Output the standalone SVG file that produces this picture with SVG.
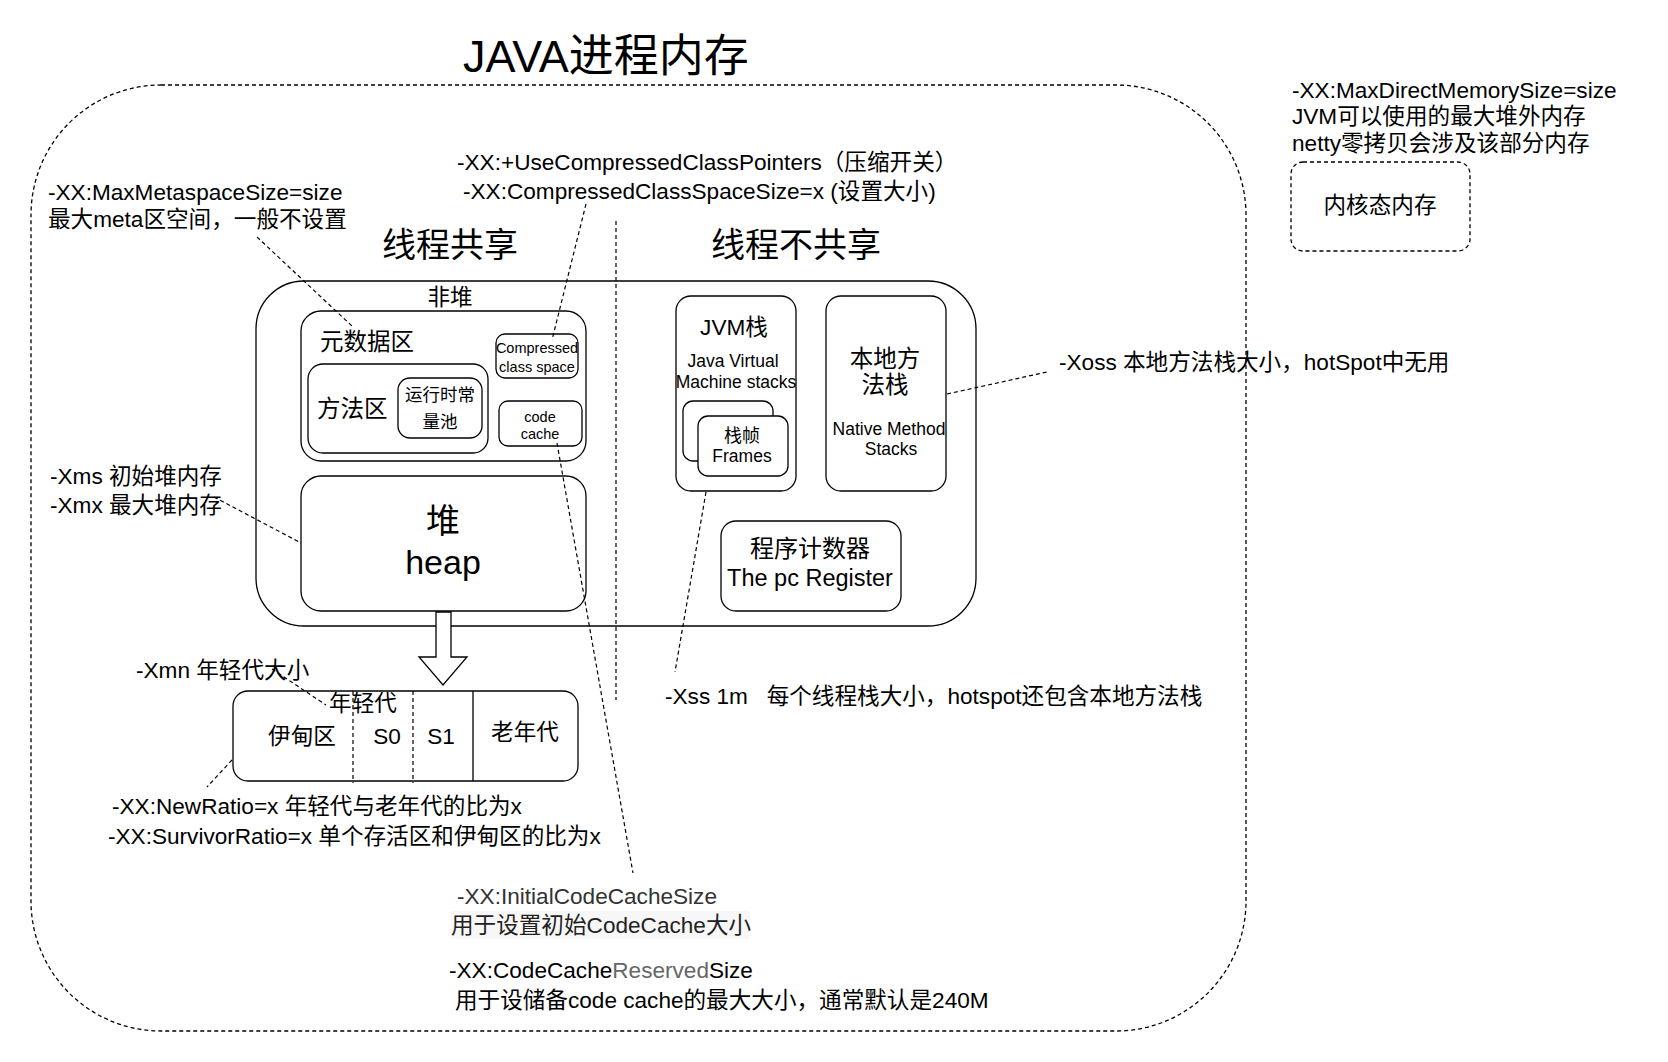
<svg xmlns="http://www.w3.org/2000/svg" width="1668" height="1062" viewBox="0 0 1668 1062">
<style>
text { font-family: "Liberation Sans", "Noto Sans CJK SC", sans-serif; fill: #000; white-space: pre; }
.box { fill: #fff; stroke: #000; stroke-width: 1.3; }
.dash { fill: none; stroke: #000; stroke-width: 1.3; stroke-dasharray: 4 3; }
.lead { fill: none; stroke: #000; stroke-width: 1.2; stroke-dasharray: 4 3; }
.t22 { font-size: 22.6px; }
.t23 { font-size: 23.5px; }
.t17 { font-size: 17.5px; }
.t14 { font-size: 14.5px; }
.c { text-anchor: middle; }
</style>
<rect width="1668" height="1062" fill="#fff"/>

<g id="title"><text x="463" y="72" font-size="45">JAVA进程内存</text></g>

<g id="process-memory"><rect class="dash" x="31" y="85" width="1215" height="946" rx="130"/></g>

<g id="kernel-memory">
<rect class="dash" x="1291" y="162" width="179" height="89" rx="12"/>
<text class="t22 c" x="1380" y="213">内核态内存</text>
</g>
<g id="direct-memory-note">
<text class="t22" x="1292" y="98">-XX:MaxDirectMemorySize=size</text>
<text class="t22" x="1292" y="124">JVM可以使用的最大堆外内存</text>
<text class="t22" x="1292" y="151">netty零拷贝会涉及该部分内存</text>
</g>

<g id="labels-sharing">
<text class="c" x="450" y="257" font-size="34">线程共享</text>
<text class="c" x="796" y="257" font-size="34">线程不共享</text>
</g>

<g id="jvm-area">
<rect class="box" x="256" y="281" width="720" height="345" rx="48"/>
<text class="t22 c" x="450" y="305">非堆</text>
</g>

<g id="metadata">
<rect class="box" x="301" y="311" width="285" height="150" rx="20"/>
<text class="t23" x="320" y="350">元数据区</text>
</g>
<g id="method-area">
<rect class="box" x="308" y="364" width="180" height="89" rx="15"/>
<text class="t23" x="317" y="417">方法区</text>
</g>
<g id="runtime-constant-pool">
<rect class="box" x="398" y="378" width="84" height="60" rx="12"/>
<text class="c" x="440" y="401" font-size="17.5">运行时常</text>
<text class="c" x="440" y="428" font-size="17.5">量池</text>
</g>
<g id="compressed-class-space">
<rect class="box" x="496" y="334" width="82" height="44" rx="9"/>
<text class="t14 c" x="537" y="353">Compressed</text>
<text class="t14 c" x="537" y="372">class space</text>
</g>
<g id="code-cache">
<rect class="box" x="499" y="401" width="83" height="45" rx="9"/>
<text class="t14 c" x="540" y="422">code</text>
<text class="t14 c" x="540" y="439">cache</text>
</g>
<g id="heap">
<rect class="box" x="301" y="476" width="285" height="135" rx="20"/>
<text class="c" x="443" y="533" font-size="34">堆</text>
<text class="c" x="443" y="574" font-size="34">heap</text>
</g>

<g id="jvm-stack">
<rect class="box" x="676" y="296" width="120" height="195" rx="15"/>
<text class="t22 c" x="734" y="335">JVM栈</text>
<text class="t17 c" x="733" y="367">Java Virtual</text>
<text class="t17 c" x="736" y="388">Machine stacks</text>
</g>
<g id="frames">
<rect class="box" x="683" y="401" width="90" height="60" rx="10"/>
<rect class="box" x="698" y="416" width="90" height="60" rx="10"/>
<text class="c" x="742" y="442" font-size="18">栈帧</text>
<text class="t17 c" x="742" y="462">Frames</text>
</g>
<g id="native-method-stack">
<rect class="box" x="826" y="296" width="120" height="195" rx="15"/>
<text class="t23 c" x="885" y="367">本地方</text>
<text class="t23 c" x="885" y="393">法栈</text>
<text class="t17 c" x="889" y="435">Native Method</text>
<text class="t17 c" x="891" y="455">Stacks</text>
</g>
<g id="pc-register">
<rect class="box" x="721" y="521" width="180" height="90" rx="15"/>
<text class="c" x="810" y="557" font-size="24">程序计数器</text>
<text class="c" x="810" y="586" font-size="23.5">The pc Register</text>
</g>

<g id="heap-arrow">
<polygon points="436,612 451,612 451,657 467,657 443,685 419,657 436,657" fill="#fff" stroke="#000" stroke-width="1.3"/>
</g>

<g id="generations">
<rect class="box" x="233" y="691" width="345" height="90" rx="15"/>
<line class="lead" x1="353" y1="691" x2="353" y2="783"/>
<line class="lead" x1="413" y1="691" x2="413" y2="783"/>
<line x1="473" y1="691" x2="473" y2="781" stroke="#000" stroke-width="1.3"/>
<text class="t22 c" x="363" y="711">年轻代</text>
<text class="t22 c" x="302" y="744">伊甸区</text>
<text class="t22 c" x="387" y="744">S0</text>
<text class="t22 c" x="441" y="744">S1</text>
<text class="t22 c" x="525" y="740">老年代</text>
</g>

<g id="notes">
<text class="t22" x="48" y="200">-XX:MaxMetaspaceSize=size</text>
<text class="t22" x="48" y="227">最大meta区空间，一般不设置</text>
<text class="t22" x="457" y="170">-XX:+UseCompressedClassPointers（压缩开关）</text>
<text class="t22" x="463" y="199">-XX:CompressedClassSpaceSize=x (设置大小)</text>
<text class="t22" x="50" y="484">-Xms 初始堆内存</text>
<text class="t22" x="50" y="513">-Xmx 最大堆内存</text>
<text class="t22" x="136" y="678">-Xmn 年轻代大小</text>
<text class="t22" x="112" y="814">-XX:NewRatio=x 年轻代与老年代的比为x</text>
<text class="t22" x="108" y="844">-XX:SurvivorRatio=x 单个存活区和伊甸区的比为x</text>
<text class="t22" x="665" y="704" xml:space="preserve">-Xss 1m   每个线程栈大小，hotspot还包含本地方法栈</text>
<text class="t22" x="1059" y="370">-Xoss 本地方法栈大小，hotSpot中无用</text>
<text class="t22" x="457" y="904" style="fill:#333">-XX:InitialCodeCacheSize</text>
<rect x="451" y="911" width="299" height="28" fill="#f7f7f7"/>
<text class="t22" x="451" y="933" style="fill:#222">用于设置初始CodeCache大小</text>
<text class="t22" x="449" y="978">-XX:CodeCache<tspan style="fill:#666">Reserved</tspan>Size</text>
<text class="t22" x="455" y="1008">用于设储备code cache的最大大小，通常默认是240M</text>
</g>

<g id="connectors">
<line class="lead" x1="616" y1="221" x2="616" y2="700"/>
<line class="lead" x1="257" y1="237" x2="353" y2="327"/>
<line class="lead" x1="586" y1="204" x2="552" y2="340"/>
<line class="lead" x1="214" y1="497" x2="301" y2="543"/>
<line class="lead" x1="272" y1="669" x2="326" y2="705"/>
<line class="lead" x1="232" y1="760" x2="207" y2="787"/>
<line class="lead" x1="557" y1="443" x2="633" y2="873"/>
<line class="lead" x1="706" y1="492" x2="675" y2="672"/>
<line class="lead" x1="947" y1="394" x2="1047" y2="372"/>
</g>
</svg>
